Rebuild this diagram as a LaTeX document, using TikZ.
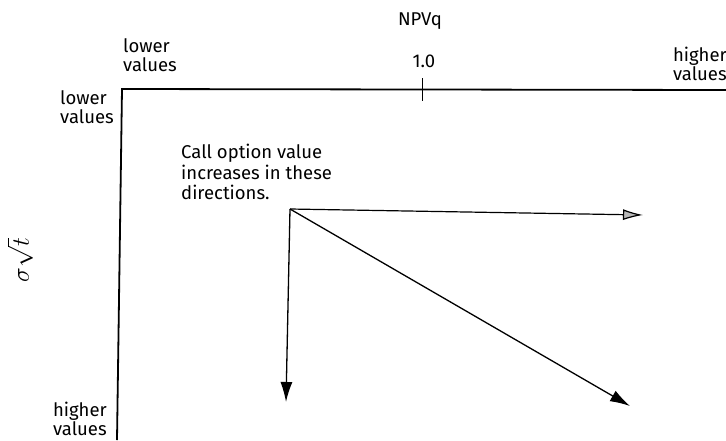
\documentclass[tikz,border=0pt]{standalone}
\usepackage{fontspec}
\setmainfont{Fira Sans}
\usetikzlibrary{arrows.meta}
\begin{document}
\begin{tikzpicture}[x=1pt,y=-1pt,
  lbl/.style={font=\fontsize{18.5}{19.5}\selectfont, inner sep=0pt, align=left},
  axis/.style={line width=1.8pt},
  arr/.style={line width=1.3pt, -{Latex[length=20pt,width=12pt]}}]
\useasboundingbox (0,0) rectangle (726,440);
% axes
\coordinate (O) at (122,89);
\coordinate (XE) at (726,90);
\coordinate (YE) at (117,440);
\draw[axis] (XE) -- (O) -- (YE);
\coordinate (T1) at (422,78);
\coordinate (T2) at (422,101);
\draw[line width=1pt] (T1) -- (T2);
% labels
\node[lbl, anchor=center] (npv) at (420,21) {NPVq};
\node[lbl, anchor=center] (one) at (424,61) {1.0};
\node[lbl, anchor=west] (lvt) at (123,55) {lower\\values};
\node[lbl, anchor=east] (hvt) at (727,64) {higher\\values};
\node[lbl, anchor=east] (lvl) at (114,107) {lower\\values};
\node[lbl, anchor=east] (hvl) at (107,419) {higher\\values};
\node[rotate=90, font=\fontsize{24}{26}\selectfont, inner sep=0pt, anchor=center] (sig) at (20,260) {$\sigma\sqrt{t}$};
\node[lbl, font=\fontsize{18.5}{20.5}\selectfont, anchor=north west] (call) at (181,144) {Call option value\\increases in these\\directions.};
% arrows
\coordinate (A) at (290,209);
\coordinate (H) at (643,215);
\coordinate (V) at (286,402);
\coordinate (D) at (630,406);
\draw[line width=1.2pt, -{Latex[length=20pt,width=11pt,fill=gray!55]}] (A) -- (H);
\draw[arr] (A) -- (V);
\draw[arr] (A) -- (D);
\end{tikzpicture}
\end{document}
